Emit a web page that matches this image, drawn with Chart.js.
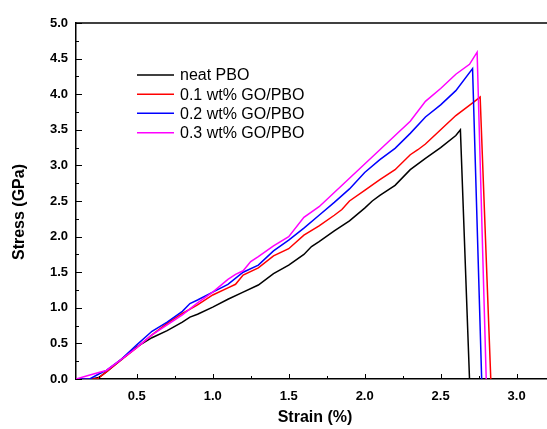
<!DOCTYPE html>
<html>
<head>
<meta charset="utf-8">
<script src="https://cdn.jsdelivr.net/npm/chart.js@4.4.0/dist/chart.umd.min.js"></script>
<style>
  body { margin: 0; background: #fff; }
  #wrap { width: 547px; height: 429px; }
</style>
</head>
<body>
<div id="wrap"><canvas id="stressChart" width="547" height="429"></canvas></div>
<script>
// series: strain (%) vs stress (GPa)
const seriesNames = ['neat PBO', '0.1 wt% GO/PBO', '0.2 wt% GO/PBO', '0.3 wt% GO/PBO'];
const seriesColors = ['#000000', '#ff0000', '#0000ff', '#ff00ff'];

const strainNeat = [0.10, 0.20, 0.25, 0.30, 0.40, 0.50, 0.60, 0.70, 0.80, 0.85, 0.90, 1.00, 1.10, 1.20, 1.30, 1.40, 1.50, 1.60, 1.65, 1.70, 1.80, 1.90, 2.00, 2.05, 2.10, 2.20, 2.30, 2.40, 2.50, 2.60, 2.63, 2.69];
const stressNeat = [0, 0, 0.02, 0.10, 0.28, 0.45, 0.58, 0.68, 0.80, 0.87, 0.91, 1.01, 1.12, 1.22, 1.32, 1.48, 1.60, 1.75, 1.86, 1.93, 2.08, 2.22, 2.40, 2.50, 2.58, 2.72, 2.94, 3.10, 3.25, 3.42, 3.50, 0];

const strainGO1 = [0.10, 0.24, 0.30, 0.40, 0.50, 0.60, 0.70, 0.80, 0.90, 1.00, 1.10, 1.15, 1.20, 1.30, 1.40, 1.50, 1.60, 1.70, 1.80, 1.85, 1.90, 2.00, 2.10, 2.20, 2.30, 2.35, 2.40, 2.50, 2.60, 2.70, 2.76, 2.83];
const stressGO1 = [0, 0, 0.10, 0.27, 0.44, 0.62, 0.78, 0.92, 1.04, 1.18, 1.28, 1.33, 1.46, 1.56, 1.73, 1.83, 2.02, 2.15, 2.30, 2.38, 2.50, 2.65, 2.80, 2.94, 3.15, 3.22, 3.30, 3.50, 3.70, 3.86, 3.96, 0];

const strainGO2 = [0.10, 0.19, 0.25, 0.30, 0.40, 0.50, 0.60, 0.70, 0.80, 0.85, 0.90, 1.00, 1.10, 1.20, 1.30, 1.40, 1.50, 1.60, 1.70, 1.80, 1.90, 2.00, 2.10, 2.20, 2.30, 2.40, 2.50, 2.60, 2.71, 2.77];
const stressGO2 = [0, 0, 0.07, 0.12, 0.28, 0.48, 0.67, 0.80, 0.95, 1.06, 1.11, 1.22, 1.33, 1.50, 1.60, 1.80, 1.95, 2.12, 2.30, 2.48, 2.67, 2.90, 3.08, 3.24, 3.45, 3.68, 3.85, 4.05, 4.36, 0];

const strainGO3 = [0.10, 0.18, 0.25, 0.30, 0.40, 0.50, 0.60, 0.70, 0.80, 0.90, 1.00, 1.10, 1.15, 1.20, 1.25, 1.30, 1.40, 1.50, 1.60, 1.70, 1.80, 1.90, 2.00, 2.10, 2.20, 2.30, 2.40, 2.50, 2.60, 2.69, 2.74, 2.80];
const stressGO3 = [0, 0.05, 0.09, 0.12, 0.28, 0.44, 0.62, 0.76, 0.90, 1.07, 1.22, 1.40, 1.47, 1.52, 1.65, 1.72, 1.87, 2.00, 2.27, 2.42, 2.62, 2.82, 3.02, 3.22, 3.42, 3.62, 3.90, 4.08, 4.28, 4.42, 4.59, 0];

const xTicks = [0.5, 1.0, 1.5, 2.0, 2.5, 3.0];
const yTicks = [0, 0.5, 1.0, 1.5, 2.0, 2.5, 3.0, 3.5, 4.0, 4.5, 5.0];
const xMinorTicks = [0.25, 0.75, 1.25, 1.75, 2.25, 2.75];
const yMinorTicks = [0.25, 0.75, 1.25, 1.75, 2.25, 2.75, 3.25, 3.75, 4.25, 4.75];

const allStrain = [strainNeat, strainGO1, strainGO2, strainGO3];
const allStress = [stressNeat, stressGO1, stressGO2, stressGO3];

function toPoints(xs, ys) {
    return xs.map((x, i) => ({ x: x, y: ys[i] }));
}

const FONT = '"Liberation Sans", Arial, sans-serif';

// inward major/minor ticks, top frame line, axis titles and the in-plot legend
const decorPlugin = {
    id: 'decor',
    afterDraw(chart) {
        const ctx = chart.ctx;
        const area = chart.chartArea;
        const xs = chart.scales.x;
        const ys = chart.scales.y;
        ctx.save();
        ctx.strokeStyle = '#000';
        ctx.lineWidth = 1.5;
        ctx.beginPath();
        ctx.moveTo(area.left, area.top);
        ctx.lineTo(area.right, area.top);
        ctx.stroke();

        ctx.lineWidth = 1;
        ctx.beginPath();
        xTicks.forEach(v => {
            const p = Math.round(xs.getPixelForValue(v)) + 0.5;
            ctx.moveTo(p, area.bottom); ctx.lineTo(p, area.bottom - 5);
        });
        xMinorTicks.forEach(v => {
            const p = Math.round(xs.getPixelForValue(v)) + 0.5;
            ctx.moveTo(p, area.bottom); ctx.lineTo(p, area.bottom - 3);
        });
        yTicks.forEach(v => {
            const p = Math.round(ys.getPixelForValue(v)) + 0.5;
            ctx.moveTo(area.left, p); ctx.lineTo(area.left + 6, p);
        });
        yMinorTicks.forEach(v => {
            const p = Math.round(ys.getPixelForValue(v)) + 0.5;
            ctx.moveTo(area.left, p); ctx.lineTo(area.left + 3, p);
        });
        ctx.stroke();

        // axis titles
        ctx.fillStyle = '#000';
        ctx.font = 'bold 16px ' + FONT;
        ctx.textAlign = 'center';
        ctx.textBaseline = 'middle';
        ctx.fillText('Strain (%)', 315, 418);
        ctx.save();
        ctx.translate(20, 212);
        ctx.rotate(-Math.PI / 2);
        ctx.fillText('Stress (GPa)', 0, 0);
        ctx.restore();

        // legend
        ctx.font = '16px ' + FONT;
        ctx.textAlign = 'left';
        const rowY = [75, 94.3, 113.3, 132.7];
        chart.data.datasets.forEach((ds, i) => {
            ctx.strokeStyle = ds.borderColor;
            ctx.lineWidth = 1.5;
            ctx.beginPath();
            ctx.moveTo(137, rowY[i]);
            ctx.lineTo(174, rowY[i]);
            ctx.stroke();
            ctx.fillStyle = '#000';
            ctx.fillText(ds.label, 180, rowY[i] + 1);
        });
        ctx.restore();
    }
};

const ctx = document.getElementById('stressChart').getContext('2d');
const stressChart = new Chart(ctx, {
    type: 'scatter',
    data: {
        datasets: seriesNames.map((name, i) => ({
            label: name,
            data: toPoints(allStrain[i], allStress[i]),
            showLine: true,
            borderColor: seriesColors[i],
            backgroundColor: seriesColors[i],
            borderWidth: 1.5,
            pointRadius: 0,
            tension: 0,
            order: 4 - i,
        })),
    },
    options: {
        responsive: false,
        animation: false,
        devicePixelRatio: 1,
        layout: {
            padding: { top: 23, right: 0, left: 0, bottom: 0 },
        },
        plugins: {
            legend: { display: false },
            tooltip: { enabled: false },
        },
        scales: {
            x: {
                type: 'linear',
                min: 0.1,
                max: 3.2,
                afterBuildTicks: (scale) => {
                    scale.ticks = xTicks.map(v => ({ value: v }));
                },
                afterFit: (scale) => {
                    scale.height = 50;
                },
                grid: { display: false, drawTicks: false },
                border: { display: true, color: '#000', width: 1.5 },
                ticks: {
                    color: '#000',
                    padding: 10,
                    maxRotation: 0,
                    font: { family: FONT, size: 13, weight: 'bold' },
                    callback: (v) => v.toFixed(1),
                },
            },
            y: {
                type: 'linear',
                min: 0,
                max: 5,
                afterBuildTicks: (scale) => {
                    scale.ticks = yTicks.map(v => ({ value: v }));
                },
                afterFit: (scale) => {
                    scale.width = 76;
                },
                grid: { display: false, drawTicks: false },
                border: { display: true, color: '#000', width: 1.5 },
                ticks: {
                    color: '#000',
                    padding: 8,
                    font: { family: FONT, size: 13, weight: 'bold' },
                    callback: (v) => v.toFixed(1),
                },
            },
        },
    },
    plugins: [decorPlugin],
});
</script>
</body>
</html>
